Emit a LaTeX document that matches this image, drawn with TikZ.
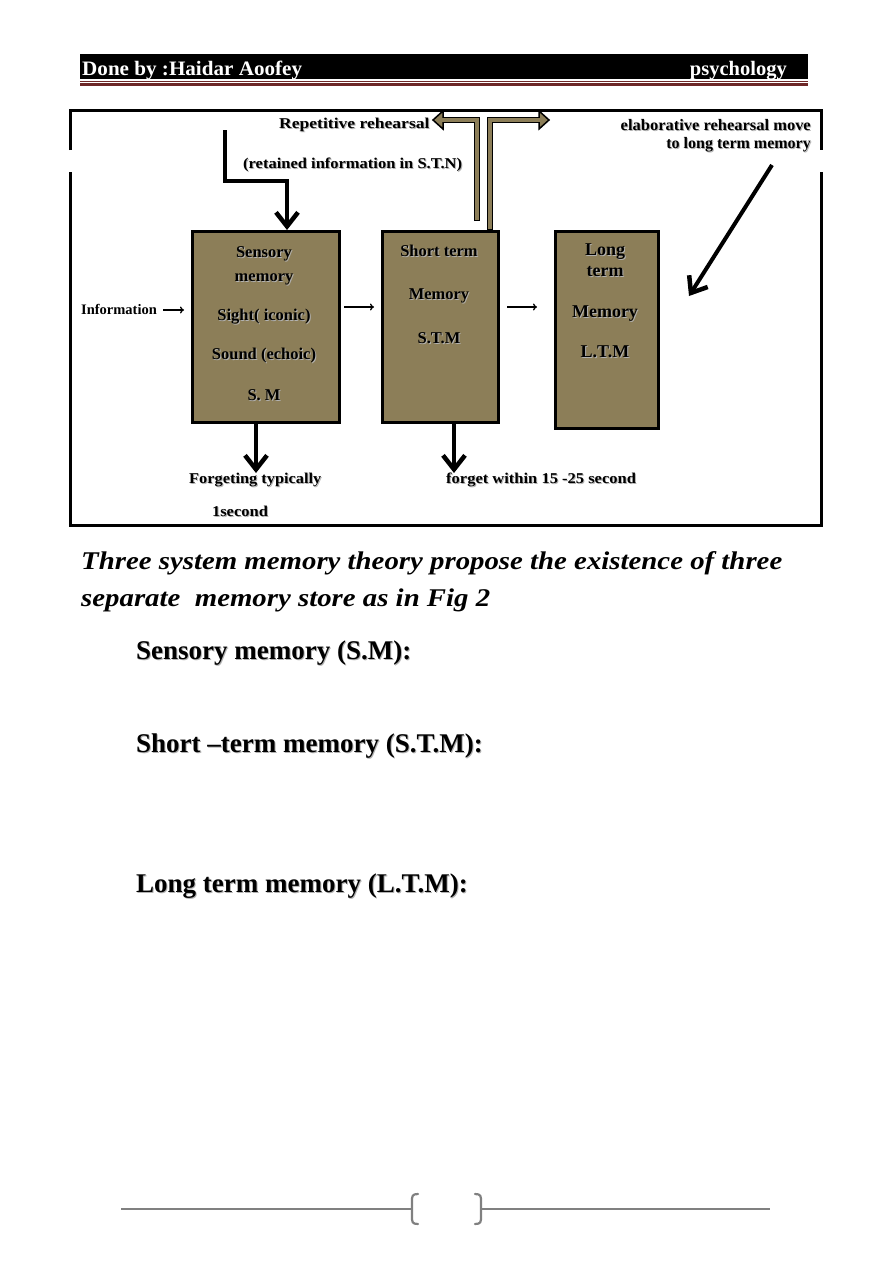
\documentclass[tikz,border=0pt]{standalone}
\usepackage{fontspec}
\setmainfont{Liberation Serif}
\usetikzlibrary{arrows.meta,calc}
\definecolor{olivebox}{RGB}{140,126,88}
\definecolor{hdrmaroon}{RGB}{110,40,40}
\definecolor{footgray}{RGB}{128,128,128}
\newcommand\hstretch[2]{\scalebox{#1}[1]{#2}}
\newcommand\shtext[1]{\rlap{\kern1pt\raisebox{-1pt}{\color{black!30}#1}}#1}
\begin{document}
\begin{tikzpicture}[x=1pt,y=-1pt,
  membox/.style={draw=black, line width=2.8pt, fill=olivebox, inner sep=0pt, anchor=north west},
  boxtxt/.style={font=\bfseries\fontsize{16.5}{18}\selectfont, anchor=base, inner sep=0pt},
  ltmtxt/.style={font=\bfseries\fontsize{18}{20}\selectfont, anchor=base, inner sep=0pt},
  lbl/.style={font=\bfseries\fontsize{15}{17}\selectfont, inner sep=0pt},
  smalllbl/.style={font=\bfseries\fontsize{16}{18}\selectfont, inner sep=0pt},
  headtxt/.style={font=\bfseries\fontsize{27}{30}\selectfont, anchor=base west, inner sep=0pt},
  paratxt/.style={font=\bfseries\itshape\fontsize{25.5}{30}\selectfont, anchor=base west, inner sep=0pt},
  bigarrow/.style={line width=4pt, -{Straight Barb[length=14pt,width=22pt,line width=4.5pt]}},
  thinarrow/.style={line width=1.3pt, -{To[length=4pt,width=7pt]}},
  rehbar/.style={line width=6.5pt, black, line join=miter},
  rehfill/.style={line width=3.6pt, olivebox, line join=miter},
  rehhead/.style={fill=olivebox, draw=black, line width=1.5pt, line join=miter}
]
\useasboundingbox (0,0) rectangle (893,1263);
\fill[white] (0,0) rectangle (893,1263);

% ---- header ----
\fill[black] (80,54) rectangle (808,79);
\draw[hdrmaroon, line width=0.8pt] (80,81.3) -- (808,81.3);
\draw[hdrmaroon, line width=3pt] (80,84.5) -- (808,84.5);
\node[font=\bfseries\fontsize{20.5}{22}\selectfont, text=white, anchor=base west, inner sep=0pt] (hleft) at (82,75) {\hstretch{1.03}{Done by :Haidar Aoofey}};
\node[font=\bfseries\fontsize{20.5}{22}\selectfont, text=white, anchor=base east, inner sep=0pt] (hright) at (787,75) {psychology};

% ---- frame ----
\draw[line width=3pt, line join=miter] (70,150) -- (70,110) -- (821,110) -- (821,150);
\draw[line width=3pt, line join=miter] (821,172) -- (821,525) -- (70,525) -- (70,172);

% ---- boxes ----
\node[membox, minimum width=147pt, minimum height=191pt] (sm) at (191,230) {};
\node[membox, minimum width=116pt, minimum height=191pt] (stm) at (381,230) {};
\node[membox, minimum width=103pt, minimum height=197pt] (ltm) at (554,230) {};

\node[boxtxt] (sm1) at (264,257) {\shtext{Sensory}};
\node[boxtxt] (sm2) at (264,281) {\shtext{memory}};
\node[boxtxt] (sm3) at (264,320) {\shtext{Sight( iconic)}};
\node[boxtxt] (sm4) at (264,359) {\shtext{Sound (echoic)}};
\node[boxtxt] (sm5) at (264,400) {\shtext{S. M}};

\node[boxtxt] (st1) at (439,256) {\shtext{Short term}};
\node[boxtxt] (st2) at (439,299) {\shtext{Memory}};
\node[boxtxt] (st3) at (439,343) {\shtext{S.T.M}};

\node[ltmtxt] (lt1) at (605,255) {\shtext{Long}};
\node[ltmtxt] (lt2) at (605,276) {\shtext{term}};
\node[ltmtxt] (lt3) at (605,317) {\shtext{Memory}};
\node[ltmtxt] (lt4) at (605,357) {\shtext{L.T.M}};

% ---- information in ----
\node[font=\bfseries\fontsize{14.5}{16}\selectfont, anchor=base west, inner sep=0pt] (info) at (81,314) {Information};
\coordinate (infoend) at (184,310);
\draw[thinarrow] ([xshift=6pt]info.east |- infoend) -- (infoend);

% ---- arrows between boxes ----
\coordinate (a1s) at (344,307);
\coordinate (a1e) at (374,307);
\draw[thinarrow] (a1s) -- (a1e);
\coordinate (a2s) at (507,307);
\coordinate (a2e) at (537,307);
\draw[thinarrow] (a2s) -- (a2e);

% ---- top entry arrow ----
\coordinate (in0) at (225,130);
\coordinate (in1) at (287,181);
\coordinate (smtop) at ($(sm.north west)+(96,0)$);
\draw[bigarrow, line join=miter] (in0) |- (in1) -- (smtop);

\node[lbl, anchor=base west] (rep) at (279,128) {\shtext{\hstretch{1.17}{Repetitive rehearsal}}};
\node[lbl, anchor=base west] (ret) at (243,168) {\shtext{\hstretch{1.1}{(retained information in S.T.N)}}};

% ---- repetitive rehearsal arrows ----
\coordinate (rl0) at (477,221);
\coordinate (rl1) at (477,120);
\coordinate (rl2) at (443,120);
\filldraw[rehhead] (433,120) -- (443,111) -- (443,129) -- cycle;
\draw[rehbar] (rl0) -- (rl1) -- (rl2);
\draw[rehfill] ($(rl0)+(0,-1.5)$) -- (rl1) -- ($(rl2)+(-2,0)$);

\coordinate (rr0) at ($(stm.north west)+(109,0)$);
\coordinate (rr1) at (490,120);
\coordinate (rr2) at (539,120);
\filldraw[rehhead] (549,120) -- (539,111) -- (539,129) -- cycle;
\draw[rehbar] (rr0) -- (rr1) -- (rr2);
\draw[rehfill] ($(rr0)+(0,-1.5)$) -- (rr1) -- ($(rr2)+(2,0)$);

% ---- elaborative rehearsal ----
\node[smalllbl, anchor=base east] (el1t) at (811,130) {\shtext{\hstretch{1.03}{elaborative rehearsal move}}};
\node[smalllbl, anchor=base east] (el2t) at (811,148) {\shtext{to long term memory}};
\coordinate (el0) at (772,165);
\coordinate (el1) at (689,296);
\draw[bigarrow] (el0) -- (el1);

% ---- forgetting arrows ----
\coordinate (f1s) at ($(sm.south west)+(65,0)$);
\coordinate (f1e) at (256,473);
\draw[bigarrow] (f1s) -- (f1e);
\coordinate (f2s) at ($(stm.south west)+(73,0)$);
\coordinate (f2e) at (454,473);
\draw[bigarrow] (f2s) -- (f2e);

\node[lbl, anchor=base west] (fg1) at (189,483) {\shtext{\hstretch{1.09}{Forgeting typically}}};
\node[lbl, anchor=base] (fg2) at (240,516) {\shtext{\hstretch{1.1}{1second}}};
\node[lbl, anchor=base west] (fg3) at (446,483) {\shtext{\hstretch{1.1}{forget within 15 -25 second}}};

% ---- text below ----
\node[paratxt] (p1) at (81,569) {\hstretch{1.13}{Three system memory theory propose the existence of three}};
\node[paratxt] (p2) at (81,606) {\hstretch{1.13}{separate\ \ memory store as in Fig 2}};

\node[headtxt] (h1) at (136,659) {\shtext{Sensory memory (S.M):}};
\node[headtxt] (h2) at (136,752) {\shtext{Short --term memory (S.T.M):}};
\node[headtxt] (h3) at (136,892) {\shtext{Long term memory (L.T.M):}};

% ---- footer ----
\draw[footgray, line width=1.8pt] (121,1209) -- (412,1209);
\draw[footgray, line width=1.8pt] (481,1209) -- (770,1209);
\draw[footgray, line width=2.2pt, line cap=round] (418,1194) .. controls (412,1194) and (412,1196) .. (412,1202) -- (412,1216) .. controls (412,1222) and (412,1224) .. (418,1224);
\draw[footgray, line width=2.2pt, line cap=round] (475,1194) .. controls (481,1194) and (481,1196) .. (481,1202) -- (481,1216) .. controls (481,1222) and (481,1224) .. (475,1224);
\end{tikzpicture}
\end{document}
